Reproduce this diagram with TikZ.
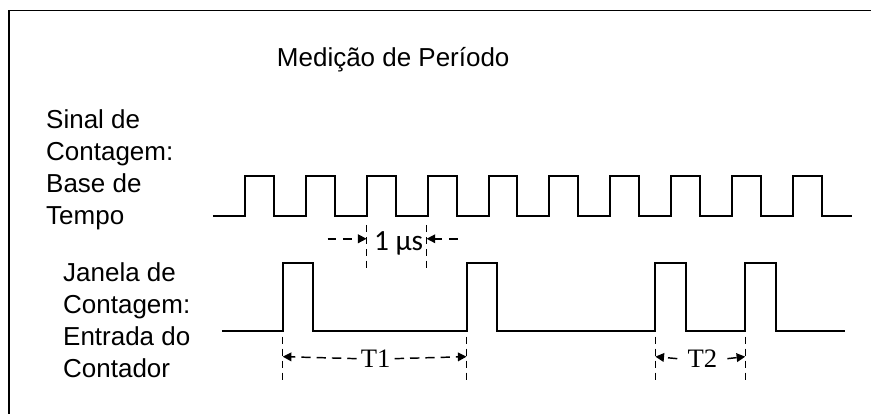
\documentclass[tikz,border=0pt]{standalone}
\usepackage{fontspec}
\setmainfont{Liberation Sans}
\newfontfamily\timesfont{Liberation Serif}
\newfontfamily\calibrifont{Carlito}
\usetikzlibrary{arrows.meta}

\tikzset{
  signal/.style={line width=1.5pt, line join=miter},
  guide/.style={line width=1.1pt, dash pattern=on 5.5pt off 3.5pt},
  dimline/.style={line width=1.1pt, dash pattern=on 7pt off 4.5pt, -{Triangle[length=6.5pt,width=6.5pt]}},
  usline/.style={line width=1.1pt, dash pattern=on 6.5pt off 5pt, -{Triangle[length=6.5pt,width=6.5pt]}},
  sidetext/.style={font=\fontsize{19.5}{24}\selectfont, align=left, inner sep=0pt, anchor=north west},
  dimtext/.style={font=\timesfont\fontsize{20}{20}\selectfont, inner sep=3pt},
}

\begin{document}
\begin{tikzpicture}[x=0.75pt, y=-0.75pt]

\fill[white] (0,0) rectangle (872,414);

% Frame
\draw[line width=1.3pt] (9,414) -- (9,10.5) -- (872,10.5);

% Texts
\node[sidetext, anchor=base west] (title) at (277,67) {Medição de Período};
\node[sidetext] (base) at (46,110) {Sinal de\\Contagem:\\Base de\\Tempo};
\node[sidetext] (window) at (63,263) {Janela de\\Contagem:\\Entrada do\\Contador};

% Time base signal
\draw[signal] (213,216) foreach \k in {0,...,9} {
  -- ({245+61*\k},216) -- ({245+61*\k},176) -- ({274+61*\k},176) -- ({274+61*\k},216)
} -- (853,216);

% Counting window signal
\draw[signal] (222,331) foreach \a/\b in {283/313, 467/497, 656/687, 746/777} {
  -- (\a,331) -- (\a,263) -- (\b,263) -- (\b,331)
} -- (846,331);

% Guide lines
\foreach \x in {367,427} \draw[guide] (\x,225) -- (\x,268);
\foreach \x in {283,467,656,746} \draw[guide] (\x,337) -- (\x,383);

% Coordinates
\coordinate (usl) at (367,239);
\coordinate (usr) at (427,239);
\coordinate (usla) at (328,239);
\coordinate (usra) at (458,239);
\coordinate (t1l) at (283,357);
\coordinate (t1r) at (467,357);
\coordinate (t2l) at (656,357);
\coordinate (t2r) at (746,357);

% 1 us
\node[font=\calibrifont\fontsize{22}{22}\selectfont, inner sep=0pt] (us) at (399,244) {1 µs};
\draw[usline] (usla) -- (usl);
\draw[usline] (usra) -- (usr);

% T1
\node[dimtext] (T1) at (376,359) {T1};
\draw[dimline] (T1.west) -- (t1l);
\draw[dimline] (T1.east) -- (t1r);

% T2
\node[dimtext, inner xsep=7.5pt] (T2) at (703,359) {T2};
\draw[dimline] (T2.west) -- (t2l);
\draw[dimline] (T2.east) -- (t2r);

\end{tikzpicture}
\end{document}
